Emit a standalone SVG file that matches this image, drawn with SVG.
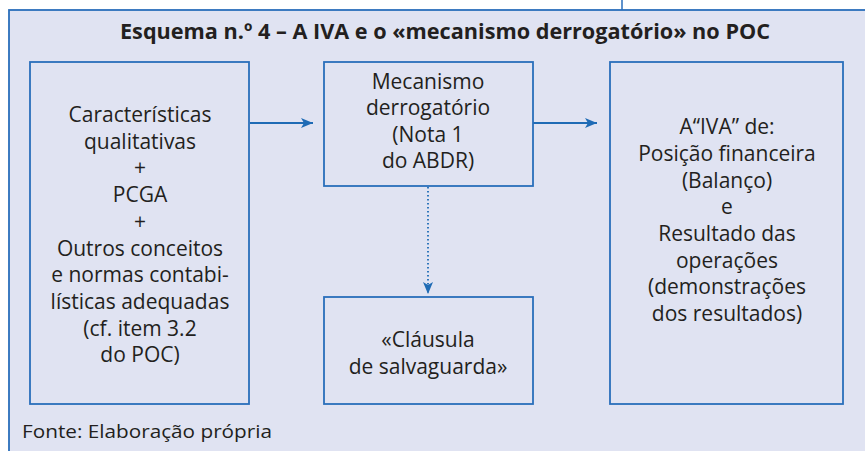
<svg xmlns="http://www.w3.org/2000/svg" width="865" height="451" viewBox="0 0 865 451">
<style>
.node rect{fill:none;stroke:#2a6ebb;stroke-width:1.8}
.t{font-family:"Open Sans","Liberation Sans",sans-serif;font-size:21px;fill:#231f20;text-anchor:middle}
.title{font-family:"Open Sans","Liberation Sans",sans-serif;font-size:22px;font-weight:bold;fill:#231f20}
.src{font-family:"Open Sans","Liberation Sans",sans-serif;font-size:19px;fill:#231f20}
.edge{stroke:#1f6bb5;stroke-width:1.8;fill:none}
</style>
<defs>
<marker id="ah" viewBox="0 0 12 10" refX="12" refY="5" markerWidth="12" markerHeight="10" markerUnits="userSpaceOnUse" orient="auto">
<path d="M0,0 L12,5 L0,10 L3,5 Z" fill="#1f6bb5"/>
</marker>
</defs>
<rect x="0" y="0" width="865" height="451" fill="#ffffff"/>
<line x1="622" y1="0" x2="622" y2="10" stroke="#2a6ebb" stroke-width="1.5"/>
<rect x="9" y="10" width="870" height="460" fill="#e0e3f2" stroke="#2a6ebb" stroke-width="1.8"/>
<text class="title" x="120" y="39" textLength="650" lengthAdjust="spacingAndGlyphs">Esquema n.º 4 – A IVA e o «mecanismo derrogatório» no POC</text>

<g id="connectors">
<line class="edge" x1="250" y1="123" x2="313" y2="123" marker-end="url(#ah)"/>
<line class="edge" x1="533" y1="123" x2="597" y2="123" marker-end="url(#ah)"/>
<line class="edge" x1="428" y1="187" x2="428" y2="294" stroke-dasharray="1.6 2.4" marker-end="url(#ah)"/>
</g>

<g id="node-left" class="node">
<rect x="30" y="62" width="219" height="342"/>
<text class="t" x="140" y="122">Características</text>
<text class="t" x="140" y="148.7">qualitativas</text>
<text class="t" x="140" y="175.4">+</text>
<text class="t" x="140" y="202.1">PCGA</text>
<text class="t" x="140" y="228.8">+</text>
<text class="t" x="140" y="255.5">Outros conceitos</text>
<text class="t" x="140" y="282.2">e normas contabi-</text>
<text class="t" x="140" y="308.9">lísticas adequadas</text>
<text class="t" x="140" y="335.6">(cf. item 3.2</text>
<text class="t" x="140" y="362.3">do POC)</text>
</g>

<g id="node-mecanismo" class="node">
<rect x="324" y="62" width="209" height="124"/>
<text class="t" x="428" y="88.5">Mecanismo</text>
<text class="t" x="428" y="115">derrogatório</text>
<text class="t" x="428" y="141.5">(Nota 1</text>
<text class="t" x="428" y="168">do ABDR)</text>
</g>

<g id="node-clausula" class="node">
<rect x="324" y="297" width="209" height="107"/>
<text class="t" x="428" y="347">«Cláusula</text>
<text class="t" x="428" y="374">de salvaguarda»</text>
</g>

<g id="node-right" class="node">
<rect x="610" y="62" width="233" height="342"/>
<text class="t" x="727" y="134">A“IVA” de:</text>
<text class="t" x="727" y="161">Posição financeira</text>
<text class="t" x="727" y="187.5">(Balanço)</text>
<text class="t" x="727" y="214">e</text>
<text class="t" x="727" y="241">Resultado das</text>
<text class="t" x="727" y="267.5">operações</text>
<text class="t" x="727" y="294">(demonstrações</text>
<text class="t" x="727" y="321">dos resultados)</text>
</g>

<text class="src" x="22" y="438" textLength="250" lengthAdjust="spacingAndGlyphs">Fonte: Elaboração própria</text>
</svg>
